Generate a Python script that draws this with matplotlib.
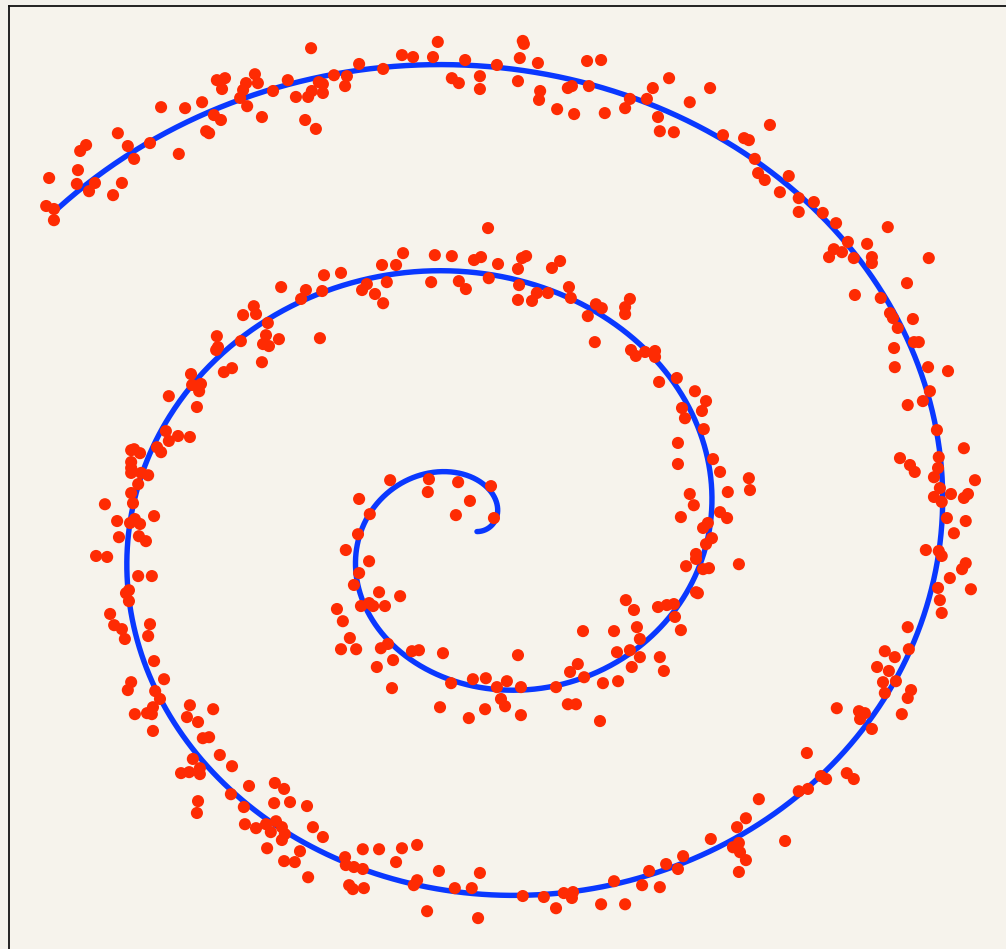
import numpy as np
import matplotlib
matplotlib.use("Agg")
import matplotlib.pyplot as plt

# Spiral parameter range: x = t*cos(t), y = t*sin(t)
T_START = 0.0
T_END = 15.0

# Noisy samples scattered around the spiral
x_points = [
    -4.49, -7.04, -6.82, -6.90, -6.01, -5.93, -6.25, -6.33, -6.41, -6.22,
    -5.82, -5.52, -5.12, -4.90, -4.57, -4.47, -4.28, -4.17, -4.17, -3.87,
    -4.65, -4.36, -8.55, -7.90, -7.44, -7.12, -6.93, -7.33, -7.25, -8.07,
    -8.85, -9.45, -9.28, -9.72, -10.58, -10.74, -10.80, -10.83, -10.34, -10.50,
    -9.61, -9.85, -11.58, -11.66, -11.45, -11.45, -3.52, -3.57, -3.19, -2.54,
    -2.03, -1.73, -1.19, -1.06, -0.32, -0.68, -0.49, 0.08, 0.08, 0.54,
    1.24, 1.27, 1.16, 1.65, 1.11, 1.71, 1.68, 2.17, 2.63, 2.46,
    2.57, 3.03, 2.98, 3.36, 3.46, 4.01, 4.14, 4.60, 4.76, 4.90,
    4.95, 5.20, 5.76, 6.31, 5.33, 6.66, 7.23, 7.36, 7.93, 7.52,
    7.61, 7.79, 8.20, 8.44, 8.71, 8.71, 9.12, 9.36, 9.72, 10.04,
    9.66, 9.88, 9.53, 10.20, 10.56, 10.69, 10.69, 11.12, 12.23, 11.64,
    10.23, 10.93, 11.18, 11.26, 11.80, 11.39, 11.83, 11.96, 11.29, 11.31,
    12.21, 12.75, 12.26, 12.07, 11.66, 12.45, 13.18, 11.45, 12.50, 11.72,
    11.85, 12.48, 12.37, 13.48, 12.53, 12.83, 13.29, 13.18, 12.37, 12.58,
    12.72, 13.23, 12.91, 12.15, 12.50, 12.58, 13.23, 13.13, 12.80, 13.37,
    12.48, 12.53, 12.58, 11.66, 11.69, 11.04, 11.31, 10.83, 11.15, 10.99,
    11.34, 11.04, 11.75, 11.66, 11.50, 9.74, 10.34, 10.50, 10.37, 10.69,
    8.93, 10.01, 10.20, 9.31, 9.45, 8.71, 8.96, 7.63, 7.28, 7.04,
    6.33, 8.34, 7.09, 6.93, 7.12, 7.28, 7.09, 5.58, 5.12, 5.44,
    -3.57, -3.55, -3.33, -3.09, -3.09, -2.65, -2.03, -2.19, -1.62, -3.46,
    -3.36, -3.06, -1.71, -1.62, -1.35, -1.03, -0.60, -0.14, 0.08, 0.03,
    1.24, 1.81, 2.14, 2.35, 2.60, 2.57, 3.36, 4.01, 3.71, 4.47,
    4.66, 4.95, -9.53, -8.90, -8.74, -8.47, -9.36, -9.45, -8.71, -8.58,
    -8.77, -8.93, -8.80, -9.26, -8.77, -7.77, -7.14, -7.85, -7.55, -7.42,
    -7.25, -6.96, -6.63, -7.69, -8.01, -7.79, -7.50, -7.50, -7.55, -7.58,
    -6.66, -6.17, -6.31, -6.28, -5.98, -5.71, -5.58, -5.44, -5.28, -5.20,
    -5.28, -5.68, -5.47, -5.22, -5.49, -5.06, -4.60, -4.44, -4.17, -4.79,
    -5.22, -4.93, -4.57, -6.33, -5.98, -5.66, -5.71, -5.79, -5.63, -5.36,
    -4.25, -5.82, -6.39, -7.04, -7.06, -7.01, -6.85, -6.63, -7.74, -7.71,
    -7.47, -7.52, -7.58, -8.34, -8.42, -8.34, -8.09, -7.77, -8.66, -8.55,
    -9.36, -9.12, -9.36, -9.36, -9.36, -9.09, -8.90, -9.17, -9.36, -9.31,
    -10.07, -9.74, -9.39, -9.26, -9.12, -8.74, -9.69, -9.15, -8.96, -10.31,
    -10.01, -9.17, -8.80, -9.42, -9.50, -9.42, -9.93, -9.82, -9.61, -8.85,
    -9.28, -5.30, -4.63, -4.19, -4.14, -4.76, -6.04, -3.68, -2.57, -2.19,
    -2.00, -1.14, -0.68, -0.08, 0.11, 0.30, 0.57, 1.11, 1.22, 1.33,
    2.03, 2.25, -2.98, -3.11, -2.76, -2.54, -2.44, -1.24, -0.49, -0.30,
    0.32, 1.14, 1.11, 1.49, 1.62, 1.92, 2.49, 2.54, 3.22, 3.38,
    3.00, 4.01, 4.14, 4.01, 3.19, 4.17, 4.30, 4.55, 4.82, 4.82,
    4.93, -2.35, -1.30, -1.33, -0.51, 0.38, -0.19, -0.57, 0.46, -3.19,
    -2.90, -3.22, -3.55, -2.92, -3.19, -3.33, -2.65, -2.08, -3.14, -2.92,
    -2.81, -2.49, -3.79, -3.63, 4.03, 4.25, 4.90, 5.14, 5.41, 5.90,
    6.20, 5.55, 6.09, 5.63, 6.14, 5.44, 5.44, 6.39, 6.58, 7.36,
    7.39, 6.79, 5.76, 5.87, 5.52, 6.58, 6.77, 6.25, 6.12, 6.36,
    6.20, 5.93, 5.93, 5.66, 6.12, 6.28, 7.09, 5.93, 5.98, 5.33,
    5.36, 5.52, -3.44, -3.68, -3.27, -2.60, -2.41, -2.71, -2.27, -2.30,
    -1.76, -1.57, -0.92, -0.70, -0.11, 0.24, 0.54, 0.81, 1.19, 0.65,
    0.76, 1.11, -1.00, -0.22, 0.22, 1.19, 2.14, 2.46, 2.68, 2.52,
    2.73, 2.90, 3.33, 3.41, 3.82, 2.87, 3.71, 4.33, 4.41, 3.79,
    4.14, 4.41, 4.19, 4.95, 5.06,
]
y_points = [
    14.67, 13.70, 13.76, 13.43, 13.88, 13.61, 13.61, 13.40, 13.16, 12.91,
    12.58, 13.37, 13.70, 13.19, 13.19, 13.37, 13.64, 13.58, 13.31, 13.85,
    12.49, 12.22, 12.88, 12.85, 13.03, 12.64, 12.49, 12.15, 12.09, 11.46,
    11.79, 11.70, 11.31, 12.09, 11.73, 11.55, 10.97, 10.55, 10.58, 10.33,
    10.58, 10.21, 10.73, 9.88, 9.79, 9.45, 13.82, 13.52, 14.19, 14.04,
    14.46, 14.40, 14.40, 14.86, 14.31, 13.76, 13.61, 13.82, 13.43, 14.16,
    14.89, 14.80, 14.37, 14.22, 13.67, 13.37, 13.10, 12.82, 12.67, 13.46,
    13.52, 13.52, 14.28, 14.31, 12.70, 12.85, 13.13, 13.13, 13.46, 12.58,
    12.15, 13.76, 13.03, 13.46, 12.12, 12.03, 11.94, 11.88, 12.34, 11.31,
    10.88, 10.67, 10.30, 10.79, 10.12, 9.70, 10.00, 9.67, 9.36, 8.79,
    8.57, 8.48, 8.33, 8.30, 8.73, 8.33, 8.15, 9.24, 8.30, 7.54,
    7.18, 7.09, 6.63, 6.48, 6.45, 6.18, 5.75, 5.75, 5.57, 4.99,
    4.99, 4.87, 4.26, 3.96, 3.84, 3.08, 2.53, 2.23, 2.26, 2.02,
    1.81, 1.93, 1.65, 1.56, 1.32, 1.14, 1.14, 1.02, 1.05, 0.90,
    0.41, 0.32, -0.05, -0.56, -0.59, -0.74, -0.96, -1.14, -1.41, -1.75,
    -1.71, -2.08, -2.47, -2.90, -3.57, -3.63, -3.81, -4.11, -4.23, -4.57,
    -4.54, -4.90, -4.81, -5.05, -5.54, -5.36, -5.45, -5.51, -5.69, -5.99,
    -6.72, -7.33, -7.51, -7.42, -7.51, -7.88, -7.81, -8.12, -8.70, -8.97,
    -9.33, -9.39, -9.45, -9.58, -9.73, -9.97, -10.33, -9.85, -10.09, -10.24,
    -9.88, -10.12, -10.18, -9.64, -10.24, -9.64, -9.61, -10.03, -9.51, -10.73,
    -10.85, -10.82, -10.73, -10.58, -11.52, -10.30, -10.82, -10.82, -10.36, -11.73,
    -11.06, -11.09, -11.43, -10.97, -10.94, -11.12, -11.31, -11.31, -10.61, -10.73,
    -10.30, -10.79, -3.26, -3.17, -3.93, -4.48, -4.57, -4.81, -4.84, -5.08,
    -5.33, -5.51, -5.54, -5.54, -6.05, -5.27, -5.39, -5.63, -5.78, -6.27,
    -6.24, -6.78, -7.12, -6.90, -7.33, -7.30, -7.18, -7.36, -8.18, -8.54,
    -7.97, -7.72, -8.36, -8.88, -9.00, -8.88, -9.12, -8.79, -8.97, -9.18,
    -9.36, -9.61, -7.63, -7.81, -8.24, -8.21, -8.33, -8.97, -9.27, -9.70,
    -10.00, -10.03, -10.49, 6.57, 6.60, 6.33, 5.96, 5.69, 5.63, 5.84,
    5.87, 5.14, 5.78, 5.93, 5.51, 5.60, 4.84, 4.96, 4.78, 4.45,
    4.48, 4.26, 3.78, 4.11, 3.05, 2.75, 2.90, 2.87, 2.56, 2.41,
    2.47, 2.38, 2.11, 1.93, 1.78, 1.78, 1.71, 1.44, 1.17, 0.86,
    0.83, 0.32, 0.26, 0.38, 0.23, 0.47, -0.17, -0.14, -0.29, -0.74,
    -0.77, -1.35, -1.35, -1.78, -1.87, -2.11, -2.50, -2.84, -2.96, -2.81,
    2.50, 7.42, 7.33, 7.30, 7.78, 7.06, 6.84, 7.85, 8.09, 8.09,
    8.45, 8.39, 8.36, 8.24, 8.33, 9.21, 8.12, 7.97, 8.30, 8.36,
    8.00, 8.21, 7.51, 7.33, 7.21, 6.93, 7.57, 7.57, 7.60, 7.36,
    7.69, 7.48, 7.03, 7.00, 7.24, 7.24, 7.42, 7.09, 6.90, 6.78,
    6.54, 6.81, 7.06, 6.60, 5.75, 5.51, 5.33, 5.45, 5.48, 5.30,
    4.54, 1.56, 1.59, 1.20, 1.50, 1.38, 0.93, 0.50, 0.41, 0.99,
    0.53, -0.08, -0.56, -0.90, -1.26, -1.62, -1.84, -1.96, -2.26, -2.17,
    -2.26, -2.26, -2.35, -2.72, -2.08, -2.38, -2.29, -2.23, 4.66, 4.26,
    3.96, 3.75, 3.66, 3.44, 3.11, 2.69, 2.05, 2.20, 1.81, 1.62,
    1.26, 1.20, 1.14, 0.80, 0.44, 0.59, 0.41, 0.26, 0.11, -0.20,
    -0.38, -0.68, -0.83, -1.05, -1.14, -1.11, -0.99, -1.84, -1.87, -2.20,
    -2.59, -2.99, -3.23, -3.57, -3.57, -3.54, -3.41, -4.11, -3.90, -4.75,
    -3.63, -3.60, -3.69, -4.60, -4.48, -4.45, -4.72, -4.54, -4.72, -5.08,
    -5.30, -3.75, -5.33, -5.66, -5.39, -5.57, -4.72, -5.24, -5.24, -4.26,
    -4.02, -4.42, -5.75, -4.60, -4.54, -3.02, -3.02, -2.90, -3.26, -3.66,
    -3.60, -3.81, -4.11, -3.81, -4.23,
]

# Visible window of the plot
X_MIN, X_MAX = -12.68, 15.24
Y_MIN, Y_MAX = -13.76, 15.95

W, H = 1006, 949
fig = plt.figure(figsize=(W / 100, H / 100), dpi=100, facecolor="#f3f1eb")
# The axes box runs past the right and bottom edges of the canvas
ax_left, ax_top, ax_right, ax_bottom = 8.5, 6.0, 1040.0, 985.0
ax = fig.add_axes([ax_left / W, 1 - ax_bottom / H,
                   (ax_right - ax_left) / W, (ax_bottom - ax_top) / H])
ax.set_facecolor("#f6f3ec")

t = np.linspace(T_START, T_END, 2000)
ax.plot(t * np.cos(t), t * np.sin(t), color="#0a38ff", lw=3.9,
        solid_capstyle="round", zorder=2)
ax.scatter(x_points, y_points, s=76, color="#fe2b03", edgecolors="none",
           zorder=3)

ax.set_xlim(X_MIN, X_MAX)
ax.set_ylim(Y_MIN, Y_MAX)
ax.set_xticks([])
ax.set_yticks([])
for side in ("left", "top", "right", "bottom"):
    ax.spines[side].set_color("#111111")
    ax.spines[side].set_linewidth(1.3)

fig.savefig("out.png", dpi=100, facecolor=fig.get_facecolor())
